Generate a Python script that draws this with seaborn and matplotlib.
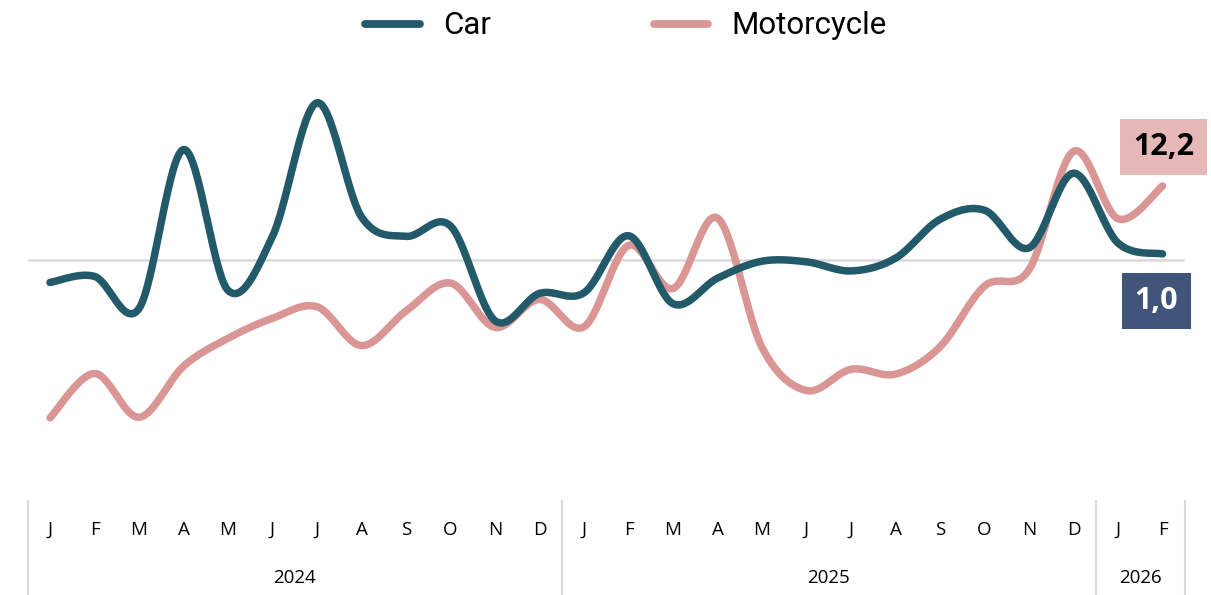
import numpy as np
import pandas as pd
import matplotlib
matplotlib.use("Agg")
import matplotlib.pyplot as plt
import seaborn as sns

months = ["J", "F", "M", "A", "M", "J", "J", "A", "S", "O", "N", "D",
          "J", "F", "M", "A", "M", "J", "J", "A", "S", "O", "N", "D",
          "J", "F"]
years = ["2024", "2025", "2026"]
year_months = [12, 12, 2]

car = [-3.7, -2.7, -8.0, 18.2, -5.0, 3.9, 25.9, 7.1, 3.9, 5.6, -10.0, -5.5,
       -5.4, 4.0, -7.2, -3.0, -0.2, -0.3, -1.8, 0.3, 6.7, 8.2, 2.0, 14.3,
       2.8, 1.0]
motorcycle = [-26.0, -18.7, -25.9, -17.5, -12.9, -9.6, -7.7, -14.1, -8.4, -3.8, -11.1, -6.5,
              -11.0, 2.4, -4.7, 6.9, -14.4, -21.5, -18.0, -18.8, -14.3, -4.3, -1.6, 17.9,
              6.8, 12.2]

car_color = "#235a69"
moto_color = "#da9694"


def smooth(y, n=30):
    # bezier smoothing like the office "smoothed line" option
    y = np.asarray(y, dtype=float)
    x = np.arange(len(y), dtype=float)
    px = np.concatenate([[x[0]], x, [x[-1]]])
    py = np.concatenate([[y[0]], y, [y[-1]]])
    xs, ys = [], []
    t = np.linspace(0, 1, n, endpoint=False)
    for i in range(1, len(px) - 2):
        p0 = np.array([px[i], py[i]])
        p3 = np.array([px[i + 1], py[i + 1]])
        c1 = p0 + (np.array([px[i + 1], py[i + 1]]) - np.array([px[i - 1], py[i - 1]])) / 6
        c2 = p3 - (np.array([px[i + 2], py[i + 2]]) - np.array([px[i], py[i]])) / 6
        b = ((1 - t) ** 3)[:, None] * p0 + (3 * (1 - t) ** 2 * t)[:, None] * c1 \
            + (3 * (1 - t) * t ** 2)[:, None] * c2 + (t ** 3)[:, None] * p3
        xs.extend(b[:, 0])
        ys.extend(b[:, 1])
    xs.append(x[-1])
    ys.append(y[-1])
    return np.array(xs), np.array(ys)


frames = []
for name, vals in [("Car", car), ("Motorcycle", motorcycle)]:
    sx, sy = smooth(vals)
    frames.append(pd.DataFrame({"x": sx, "y": sy, "series": name, "order": np.arange(len(sx))}))
df = pd.concat(frames, ignore_index=True)

sns.set_theme(style="white")
plt.rcParams["font.family"] = ["Open Sans", "DejaVu Sans"]

fig = plt.figure(figsize=(12.11, 5.95), dpi=100)
ax = fig.add_axes([27.75 / 1211, 1 - 490 / 595, 1157 / 1211, 430 / 595])

ax.axhline(0, color="#d9d9d9", lw=1.8, zorder=1)
sns.lineplot(data=df, x="x", y="y", hue="series", sort=False, estimator=None,
             units="series", palette={"Car": car_color, "Motorcycle": moto_color},
             hue_order=["Motorcycle", "Car"], linewidth=5.4, ax=ax, legend=False,
             solid_capstyle="round", zorder=3)

ax.set_xlim(-0.5, 25.5)
ax.set_ylim(-(490 - 260) / 6.07, (260 - 60) / 6.07)
ax.set_xlabel("")
ax.set_ylabel("")
ax.set_yticks([])
ax.set_xticks(range(len(months)))
ax.set_xticklabels(months, fontsize=13.5, color="black")
ax.tick_params(axis="x", length=0, pad=22)
for s in ax.spines.values():
    s.set_visible(False)

# category separators and year labels
trans = ax.get_xaxis_transform()
start = 0
bounds = [-0.5]
for yr, n in zip(years, year_months):
    ax.text(start + (n - 1) / 2, -0.205, yr, transform=trans, ha="center", va="center",
            fontsize=13.5, color="black")
    start += n
    bounds.append(start - 0.5)
ax.vlines(bounds, -0.023, -0.25, transform=trans, colors="#d9d9d9", lw=1.5, clip_on=False)

# end labels
ax.annotate("12,2", xy=(25, motorcycle[-1]), xytext=(1, 39), textcoords="offset pixels",
            ha="center", va="center", fontsize=22, fontweight="bold", color="black",
            bbox=dict(boxstyle="square,pad=0.42", fc="#e6b8b7", ec="none"))
ax.annotate("1,0", xy=(25, car[-1]), xytext=(-6, -47), textcoords="offset pixels",
            ha="center", va="center", fontsize=22, fontweight="bold", color="white",
            bbox=dict(boxstyle="square,pad=0.42", fc="#415479", ec="none"))

# legend
handles = [plt.Line2D([], [], color=car_color, lw=5.6, solid_capstyle="round"),
           plt.Line2D([], [], color=moto_color, lw=5.6, solid_capstyle="round")]
fig.legend(handles, ["Car", "Motorcycle"], loc="center", bbox_to_anchor=(626 / 1211, 1 - 26 / 595),
           ncol=2, frameon=False, handlelength=1.75, handletextpad=0.75, columnspacing=5.2,
           prop={"family": "Roboto", "size": 22.5}, labelcolor="black")

fig.savefig("out.png", dpi=100)
